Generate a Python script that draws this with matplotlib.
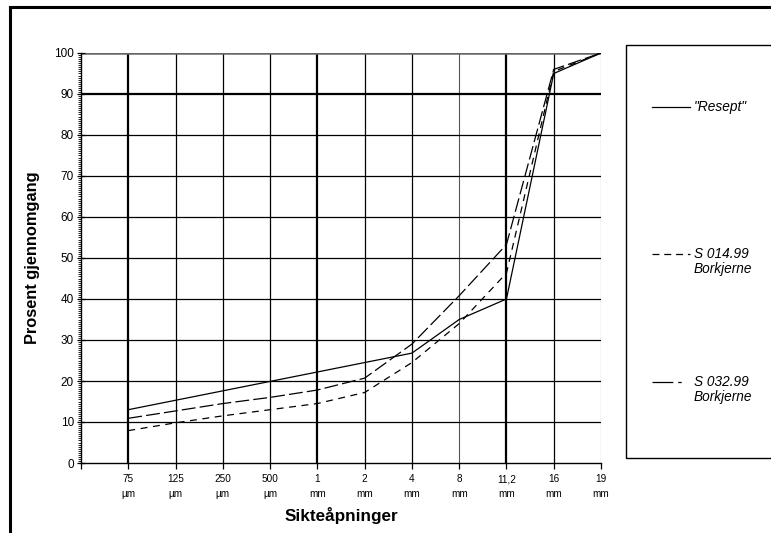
import matplotlib
matplotlib.use("Agg")
import matplotlib.pyplot as plt
from matplotlib.lines import Line2D
from matplotlib.patches import Rectangle
from matplotlib.ticker import MultipleLocator

plt.rcParams['font.family'] = ['Liberation Sans', 'DejaVu Sans']
plt.rcParams['lines.scale_dashes'] = False

# ---- data ----
sieve_sizes = ["75", "125", "250", "500", "1", "2", "4", "8", "11,2", "16", "19"]
sieve_units = ["µm", "µm", "µm", "µm", "mm", "mm", "mm", "mm", "mm", "mm", "mm"]
resept = [13.0, 15.3, 17.6, 19.9, 22.2, 24.5, 26.8, 35.0, 40.0, 95.0, 100.0]
s014 = [7.9, 9.8, 11.5, 13.0, 14.5, 17.2, 24.5, 34.0, 46.3, 95.5, 100.0]
s032 = [10.9, 12.7, 14.5, 16.0, 17.8, 20.7, 29.0, 40.8, 53.3, 96.0, 100.0]
series_names = ['"Resept"', "S 014.99\nBorkjerne", "S 032.99\nBorkjerne"]
y_ticks = [0, 10, 20, 30, 40, 50, 60, 70, 80, 90, 100]

W, H = 771, 533
fig = plt.figure(figsize=(W / 100, H / 100), dpi=100)
ax = fig.add_axes([81 / W, 1 - 463 / H, (601 - 81) / W, (463 - 53) / H])

xpos = list(range(1, len(sieve_sizes) + 1))
ax.set_xlim(0, len(sieve_sizes))
ax.set_ylim(0, 100)

# grid: vertical lines at categories
thick_v = {1, 5, 9}
grey_v = {8, 11}
for p in xpos:
    if p in thick_v:
        ax.plot([p, p], [0, 100], color='black', lw=1.6, zorder=1, solid_capstyle='butt')
    elif p in grey_v:
        ax.plot([p, p], [0, 100], color='#555555', lw=0.8, zorder=1, solid_capstyle='butt')
    else:
        ax.plot([p, p], [0, 100], color='black', lw=0.9, zorder=1, solid_capstyle='butt')
# horizontal lines
for yv in y_ticks[1:]:
    if yv == 90:
        ax.axhline(yv, color='black', lw=1.6, zorder=1)
    elif yv == 100:
        ax.axhline(yv, color='#666666', lw=1.8, zorder=1)
    else:
        ax.axhline(yv, color='black', lw=0.9, zorder=1)

# series
ax.plot(xpos, resept, color='black', lw=0.9, zorder=3)
l014, = ax.plot(xpos, s014, color='black', lw=0.9, zorder=3)
l014.set_dashes((5, 4))
l032, = ax.plot(xpos, s032, color='black', lw=0.9, zorder=3)
l032.set_dashes((10, 3))

# spines
for s in ['top', 'right']:
    ax.spines[s].set_visible(False)
ax.spines['left'].set_linewidth(1.0)
ax.spines['bottom'].set_linewidth(1.0)

ax.set_yticks(y_ticks)
ax.yaxis.set_minor_locator(MultipleLocator(0.5))
ax.tick_params(axis='y', which='major', direction='inout', length=6, width=0.9, labelsize=8.5, pad=2)
ax.tick_params(axis='y', which='minor', direction='out', length=2.5, width=0.6)
ax.set_xticks([0] + xpos)
ax.set_xticklabels([""] + [f"{a}\n{b}" for a, b in zip(sieve_sizes, sieve_units)],
                   fontsize=7.2, linespacing=1.6)
ax.tick_params(axis='x', direction='out', length=4, width=0.9, pad=4)

ax.set_ylabel("Prosent gjennomgang", fontsize=11.8, fontweight='bold', labelpad=10)
ax.set_xlabel("Sikteåpninger", fontsize=12.3, fontweight='bold', labelpad=6)

# figure border (top and left)
fig.add_artist(Line2D([10 / W, 10 / W], [0, 1 - 7 / H], color='black', lw=2.2, transform=fig.transFigure))
fig.add_artist(Line2D([10 / W, 770 / W], [1 - 7 / H, 1 - 7 / H], color='black', lw=2.2, transform=fig.transFigure))

# legend box
fig.add_artist(Rectangle((626 / W, 1 - 458 / H), (790 - 626) / W, (458 - 45) / H,
                         transform=fig.transFigure, fill=False, edgecolor='black', lw=1.0, clip_on=False))

def fy(y):
    return 1 - y / H

leg_y = [107, 254, 382]
styles = [None, (5, 3.5), (15, 3.5, 2.5, 10)]
for name, yy, st in zip(series_names, leg_y, styles):
    ln = Line2D([652 / W, 690 / W], [fy(yy), fy(yy)], color='black', lw=0.9, transform=fig.transFigure)
    if st is not None:
        ln.set_dashes(st)
    fig.add_artist(ln)
    for i, part in enumerate(name.split("\n")):
        fig.text(694 / W, fy(yy + 15 * i), part, fontsize=9.8, style='italic', va='center', ha='left')

fig.savefig("out.png", dpi=100)
